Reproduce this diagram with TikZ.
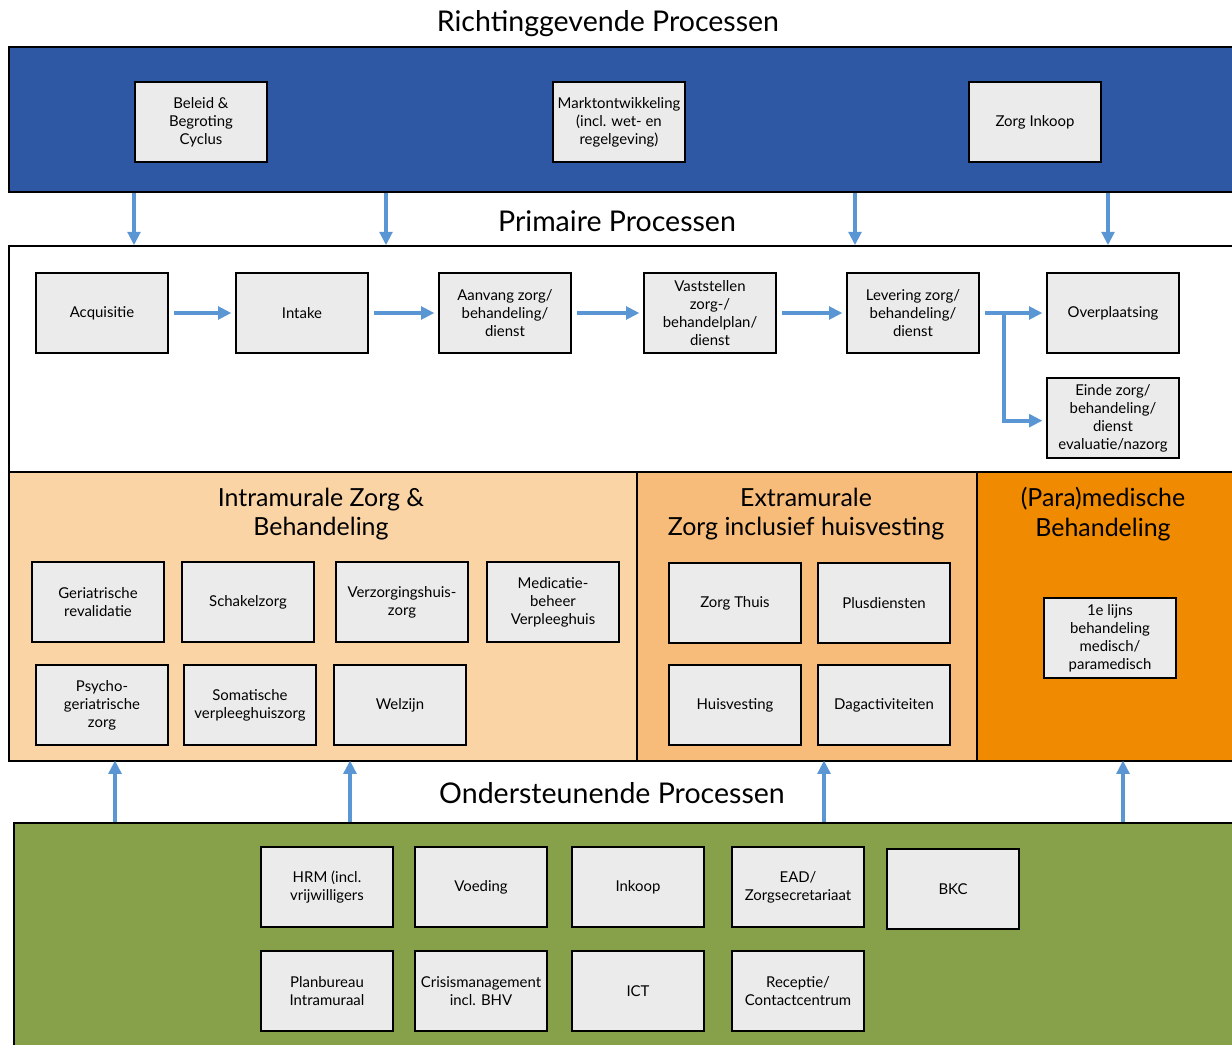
\documentclass[tikz,border=0pt]{standalone}
\usepackage{fontspec}
\setmainfont{Lato}
\usepackage{tikz}
\usetikzlibrary{arrows.meta, positioning, fit}
\definecolor{bandblue}{RGB}{47,88,164}
\definecolor{flowblue}{RGB}{91,150,212}
\definecolor{boxgrey}{RGB}{235,235,235}
\definecolor{intrapeach}{RGB}{251,212,165}
\definecolor{extraorange}{RGB}{248,188,122}
\definecolor{paraorange}{RGB}{240,138,0}
\definecolor{supgreen}{RGB}{135,160,74}

\begin{document}
\begin{tikzpicture}[x=0.75pt,y=-0.75pt,
  proc/.style={draw=black,fill=boxgrey,line width=0.9pt,minimum width=99pt,
    minimum height=60pt,inner sep=2pt,font=\fontsize{11.2}{13.5}\selectfont,align=center},
  band/.style={draw=black,line width=1.2pt,inner sep=0pt},
  title/.style={font=\fontsize{21.4}{25}\selectfont},
  head/.style={font=\fontsize{18.7}{22}\selectfont,align=center},
  flow/.style={draw=flowblue,line width=3pt,-{Triangle[width=9.5pt,length=10pt]}}]
  \useasboundingbox (0,0) rectangle (1232,1045);
  \clip (0,0) rectangle (1232,1045);
  % bands
  \node[band,fill=bandblue,fit={(9,47) (1245,192)}](richt){};
  \node[band,fill=white,fit={(9,246) (1245,472)}](prim){};
  \node[band,fill=intrapeach,fit={(9,472) (637,761)}](intra){};
  \node[band,fill=extraorange,fit={(637,472) (977,761)}](extra){};
  \node[band,fill=paraorange,fit={(977,472) (1245,761)}](para){};
  \node[band,fill=supgreen,fit={(14,823) (1245,1060)}](onder){};
  % titles
  \node[title](trich) at (608,24){Richtinggevende Processen};
  \node[title](tprim) at (617,221){Primaire Processen};
  \node[title](tond) at (612,793){Ondersteunende Processen};
  \node[head](hintra) at (321,514){Intramurale Zorg \&\\Behandeling};
  \node[head](hextra) at (806,514){Extramurale\\Zorg inclusief huisvesting};
  \node[head](hpara) at (1103,514){(Para)medische\\Behandeling};
  % richtinggevend
  \node[proc](beleid) at (201,122){Beleid \&\\Begroting\\Cyclus};
  \node[proc](markt) at (619,122){Marktontwikkeling\\(incl. wet- en\\regelgeving)};
  \node[proc](zinkoop) at (1035,122){Zorg Inkoop};
  % primair
  \node[proc](acq) at (102,313){Acquisitie};
  \node[proc](intake) at (302,313){Intake};
  \node[proc](aanvang) at (505,313){Aanvang zorg/\\behandeling/\\dienst};
  \node[proc](vastst) at (710,313){Vaststellen\\zorg-/\\behandelplan/\\dienst};
  \node[proc](levering) at (913,313){Levering zorg/\\behandeling/\\dienst};
  \node[proc](overpl) at (1113,313){Overplaatsing};
  \node[proc](einde) at (1113,418){Einde zorg/\\behandeling/\\dienst\\evaluatie/nazorg};
  % intramuraal
  \node[proc](geri) at (98,602){Geriatrische\\revalidatie};
  \node[proc](schakel) at (248,602){Schakelzorg};
  \node[proc](verz) at (402,602){Verzorgingshuis-\\zorg};
  \node[proc](medic) at (553,602){Medicatie-\\beheer\\Verpleeghuis};
  \node[proc](psycho) at (102,705){Psycho-\\geriatrische\\zorg};
  \node[proc](soma) at (250,705){Somatische\\verpleeghuiszorg};
  \node[proc](welzijn) at (400,705){Welzijn};
  % extramuraal
  \node[proc](zthuis) at (735,603){Zorg Thuis};
  \node[proc](plus) at (884,603){Plusdiensten};
  \node[proc](huisv) at (735,705){Huisvesting};
  \node[proc](dagact) at (884,705){Dagactiviteiten};
  % (para)medisch
  \node[proc](eerste) at (1110,638){1e lijns\\behandeling\\medisch/\\paramedisch};
  % ondersteunend
  \node[proc](hrm) at (327,887){HRM (incl.\\vrijwilligers};
  \node[proc](voeding) at (481,887){Voeding};
  \node[proc](inkoop) at (638,887){Inkoop};
  \node[proc](ead) at (798,887){EAD/\\Zorgsecretariaat};
  \node[proc](bkc) at (953,889){BKC};
  \node[proc](planb) at (327,991){Planbureau\\Intramuraal};
  \node[proc](crisis) at (481,991){Crisismanagement\\incl. BHV};
  \node[proc](ict) at (638,991){ICT};
  \node[proc](recep) at (798,991){Receptie/\\Contactcentrum};
  % pijlen
  \foreach \ax [count=\i] in {134,386,855,1108}{
    \coordinate (d\i) at (\ax,0);
    \draw[flow] (richt.south -| d\i) -- (prim.north -| d\i);}
  \foreach \ax/\sec [count=\i] in {115/intra,350/intra,824/extra,1123/para}{
    \coordinate (u\i) at (\ax,0);
    \draw[flow] (onder.north -| u\i) -- ([yshift=1pt]\sec.south -| u\i);}
  \foreach \a/\b in {acq/intake,intake/aanvang,aanvang/vastst,vastst/levering}
    \draw[flow,shorten <=4pt,shorten >=3pt] (\a) -- (\b);
  \coordinate (split) at (1004,313);
  \draw[flow,shorten <=4pt,shorten >=3pt] (levering) -- (overpl);
  \draw[flow,shorten >=3pt] (split) |- ([yshift=-2pt]einde.west);
\end{tikzpicture}
\end{document}
